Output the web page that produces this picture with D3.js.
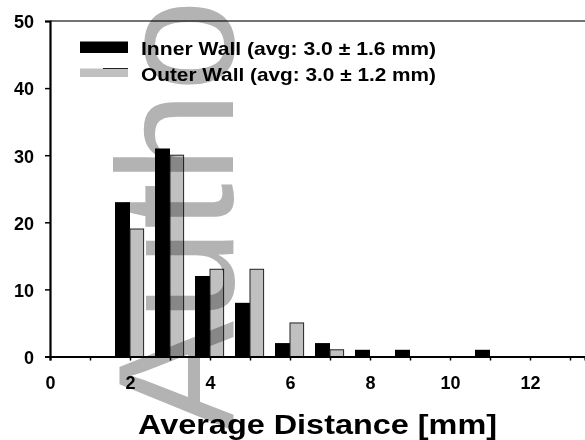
<!DOCTYPE html>
<html>
<head>
<meta charset="utf-8">
<script src="https://cdn.jsdelivr.net/npm/d3@7"></script>
<style>
  html, body { margin: 0; padding: 0; background: #fff; }
  svg { display: block; }
  text { font-family: "Liberation Sans", Arial, Helvetica, sans-serif; }
</style>
</head>
<body>
<div id="chart"></div>
<script>
// Histogram of average wall distance, inner vs outer wall
const bins = [2, 3, 4, 5, 6, 7, 8, 9, 10, 11, 12];
const innerCounts = [23, 31, 12, 8, 2, 2, 1, 1, 0, 1, 0];
const outerCounts = [19, 30, 13, 13, 5, 1, 0, 0, 0, 0, 0];
const seriesNames = ["Inner Wall (avg: 3.0 \u00b1 1.6 mm)", "Outer Wall (avg: 3.0 \u00b1 1.2 mm)"];
const xTickValues = [0, 1, 2, 3, 4, 5, 6, 7, 8, 9, 10, 11, 12, 13];
const yTickValues = [0, 10, 20, 30, 40, 50];
const xTitle = "Average Distance [mm]";
const watermark = "Autho";

const W = 585, H = 440;
const svg = d3.select("#chart").append("svg")
  .attr("width", W).attr("height", H)
  .style("background", "#fff");

const x = d3.scaleLinear().domain([0, 13.375]).range([50, 585]);
const y = d3.scaleLinear().domain([0, 50]).range([356.5, 21]);

const blackW = 0.375, greyW = 0.34;

// plot frame top line
svg.append("line")
  .attr("x1", x(0)).attr("x2", W)
  .attr("y1", y(50)).attr("y2", y(50))
  .attr("stroke", "#444").attr("stroke-width", 1.5);

// bars
const rows = bins.map((b, i) => ({ bin: b, inner: innerCounts[i], outer: outerCounts[i] }));

svg.append("g").selectAll("rect")
  .data(rows.filter(d => d.inner > 0))
  .join("rect")
  .attr("x", d => x(d.bin - blackW))
  .attr("width", d => x(d.bin) - x(d.bin - blackW))
  .attr("y", d => y(d.inner))
  .attr("height", d => y(0) - y(d.inner))
  .attr("fill", "#000");

svg.append("g").selectAll("rect")
  .data(rows.filter(d => d.outer > 0))
  .join("rect")
  .attr("x", d => x(d.bin))
  .attr("width", d => x(d.bin + greyW) - x(d.bin))
  .attr("y", d => y(d.outer))
  .attr("height", d => y(0) - y(d.outer))
  .attr("fill", "#c0c0c0")
  .attr("stroke", "#222")
  .attr("stroke-width", 1);

// axes
const yAxis = d3.axisLeft(y).tickValues(yTickValues).tickSize(5).tickFormat(d3.format("d"));
const gy = svg.append("g").attr("transform", `translate(${x(0)},0)`).call(yAxis);
gy.select(".domain").attr("stroke", "#000").attr("stroke-width", 2.2);
gy.selectAll(".tick line").attr("stroke", "#000").attr("stroke-width", 1.5);
gy.selectAll(".tick text")
  .attr("x", -16).attr("dy", "0.38em")
  .attr("font-size", 18).attr("font-weight", "bold").attr("fill", "#000")
  .style("font-family", '"Liberation Sans", Arial, sans-serif');

const xAxis = d3.axisBottom(x).tickValues(xTickValues).tickSize(4)
  .tickFormat(d => d % 2 === 0 ? d : "");
const gx = svg.append("g").attr("transform", `translate(0,${y(0)})`).call(xAxis);
gx.select(".domain").attr("stroke", "#000").attr("stroke-width", 2.2);
gx.selectAll(".tick line").attr("stroke", "#000").attr("stroke-width", 1.5);
gx.selectAll(".tick text")
  .attr("y", 20).attr("dy", "0.71em")
  .attr("font-size", 18).attr("font-weight", "bold").attr("fill", "#000")
  .style("font-family", '"Liberation Sans", Arial, sans-serif');

// axis title
svg.append("text")
  .attr("x", 138).attr("y", 434)
  .attr("textLength", 359).attr("lengthAdjust", "spacingAndGlyphs")
  .attr("font-size", 28).attr("font-weight", "bold").attr("fill", "#000")
  .text(xTitle);

// legend
const leg = svg.append("g");
leg.append("rect").attr("x", 80).attr("y", 41.5).attr("width", 48).attr("height", 11.5).attr("fill", "#000");
leg.append("rect").attr("x", 80).attr("y", 68.5).attr("width", 48).attr("height", 8.5).attr("fill", "#c0c0c0");
leg.append("line").attr("x1", 103).attr("x2", 128).attr("y1", 68.5).attr("y2", 68.5)
  .attr("stroke", "#222").attr("stroke-width", 1);
leg.selectAll("text.lab")
  .data(seriesNames)
  .join("text")
  .attr("class", "lab")
  .attr("x", 141).attr("y", (d, i) => 54.5 + i * 26)
  .attr("textLength", 295).attr("lengthAdjust", "spacingAndGlyphs")
  .attr("font-size", 18.5).attr("font-weight", "bold").attr("fill", "#000")
  .text(d => d);

// vertical watermark
svg.append("text")
  .attr("transform", "translate(233,431) rotate(-90)")
  .attr("font-size", 165)
  .attr("fill", "#b3b3b3")
  .style("mix-blend-mode", "multiply")
  .text(watermark);
</script>
</body>
</html>
